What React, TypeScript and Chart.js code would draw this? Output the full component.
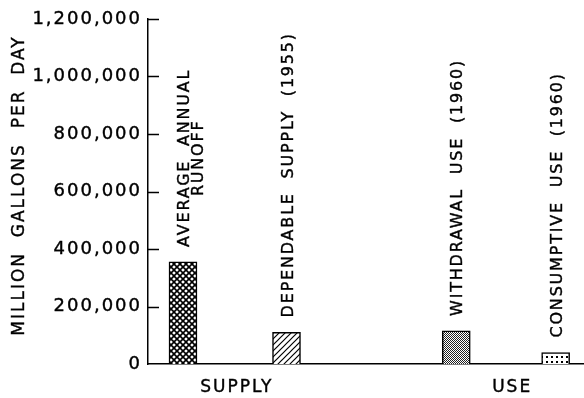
import React, { useEffect, useRef } from "react";
import { Chart, registerables } from "chart.js";

Chart.register(...registerables);

// ---- data ----
const categories = [
  "AVERAGE ANNUAL RUNOFF",
  "DEPENDABLE SUPPLY (1955)",
  "WITHDRAWAL USE (1960)",
  "CONSUMPTIVE USE (1960)",
];
const barLabelLines = [
  ["AVERAGE  ANNUAL", "RUNOFF"],
  ["DEPENDABLE  SUPPLY  (1955)"],
  ["WITHDRAWAL  USE  (1960)"],
  ["CONSUMPTIVE  USE  (1960)"],
];
const values = [355000, 110000, 115000, 40000];
const barPositions = [1, 2, 3.64, 4.6];
const groupLabels = ["SUPPLY", "USE"];
const groupPositions = [1.52, 4.18];
const yTickValues = [0, 200000, 400000, 600000, 800000, 1000000, 1200000];
const yTitle = "MILLION  GALLONS  PER  DAY";

const FONT = '"DejaVu Sans", sans-serif';
const AXIS_SPACING = "2px";
const LABEL_SPACING = "1.8px";

function makePattern(kind: string): CanvasPattern | string {
  const c = document.createElement("canvas");
  const size = kind === "cross" ? 6 : kind === "hatch" ? 6 : kind === "stipple" ? 2 : 5;
  c.width = size;
  c.height = size;
  const g = c.getContext("2d")!;
  g.fillStyle = "#fff";
  g.fillRect(0, 0, size, size);
  g.strokeStyle = "#000";
  g.fillStyle = "#000";
  if (kind === "cross") {
    g.lineWidth = 1.6;
    g.beginPath();
    g.moveTo(-1, -1); g.lineTo(size + 1, size + 1);
    g.moveTo(-1, size + 1); g.lineTo(size + 1, -1);
    g.stroke();
  } else if (kind === "hatch") {
    g.lineWidth = 1.2;
    g.beginPath();
    g.moveTo(-1, size + 1); g.lineTo(size + 1, -1);
    g.moveTo(-1, 1); g.lineTo(1, -1);
    g.moveTo(size - 1, size + 1); g.lineTo(size + 1, size - 1);
    g.stroke();
  } else if (kind === "stipple") {
    g.fillStyle = "#222";
    g.fillRect(0, 0, 1, 1);
    g.fillRect(1, 1, 1, 1);
  } else {
    g.fillRect(1, 1, 2, 2);
  }
  const p = g.createPattern(c, "repeat");
  return p || "#888";
}

const patternKinds = ["cross", "hatch", "stipple", "dots"];

export default function App() {
  const ref = useRef<HTMLCanvasElement | null>(null);

  useEffect(() => {
    if (!ref.current) return;
    const setSpacing = (chart: any) => {
      (chart.ctx as any).letterSpacing = AXIS_SPACING;
    };

    const drawText = (
      ctx: CanvasRenderingContext2D,
      text: string,
      x: number,
      y: number
    ) => {
      ctx.fillText(text, x, y);
      ctx.strokeText(text, x, y);
    };

    const customPlugin = {
      id: "custom",
      beforeUpdate: (chart: any) => setSpacing(chart),
      beforeLayout: (chart: any) => setSpacing(chart),
      beforeDraw: (chart: any) => setSpacing(chart),
      afterDraw: (chart: any) => {
        const ctx = chart.ctx as CanvasRenderingContext2D;
        const area = chart.chartArea;
        const ys = chart.scales.y;
        // inward tick marks
        ctx.save();
        ctx.strokeStyle = "#000";
        ctx.lineWidth = 1.5;
        ctx.beginPath();
        yTickValues.forEach((v) => {
          if (v === 0) return;
          const py = Math.round(ys.getPixelForValue(v)) + 0.5;
          ctx.moveTo(area.left, py);
          ctx.lineTo(area.left + 11, py);
        });
        ctx.stroke();
        ctx.restore();

        // y title
        ctx.save();
        (ctx as any).letterSpacing = "2px";
        ctx.font = `17px ${FONT}`;
        ctx.fillStyle = "#000";
        ctx.strokeStyle = "#000";
        ctx.lineWidth = 0.4;
        ctx.translate(20, (area.top + area.bottom) / 2 - 6);
        ctx.rotate(-Math.PI / 2);
        ctx.textAlign = "center";
        ctx.textBaseline = "middle";
        drawText(ctx, yTitle, 0, 0);
        ctx.restore();

        // bar labels
        const meta = chart.getDatasetMeta(0);
        meta.data.forEach((el: any, i: number) => {
          const lines = barLabelLines[i];
          ctx.save();
          (ctx as any).letterSpacing = LABEL_SPACING;
          ctx.font = `16px ${FONT}`;
          ctx.fillStyle = "#000";
          ctx.strokeStyle = "#000";
          ctx.lineWidth = 0.4;
          ctx.textBaseline = "middle";
          const startY = el.y - 15;
          ctx.translate(el.x + 2, startY);
          ctx.rotate(-Math.PI / 2);
          const w0 = ctx.measureText(lines[0]).width;
          ctx.textAlign = "left";
          drawText(ctx, lines[0], 0, 0);
          for (let k = 1; k < lines.length; k++) {
            ctx.textAlign = "center";
            drawText(ctx, lines[k], w0 / 2, 14 * k);
          }
          ctx.restore();
        });
      },
    };

    const chart = new Chart(ref.current, {
      type: "bar",
      data: {
        labels: categories,
        datasets: [
          {
            label: "Million gallons per day",
            data: values.map((v, i) => ({ x: barPositions[i], y: v })) as any,
            backgroundColor: patternKinds.map((k) => makePattern(k)) as any,
            borderColor: "#000",
            borderWidth: 1.5,
            borderSkipped: "bottom",
            barThickness: 28,
          },
        ],
      },
      options: {
        responsive: false,
        animation: false,
        events: [],
        layout: { padding: { top: 19, left: 0, right: 0, bottom: 0 } },
        plugins: {
          legend: { display: false },
          tooltip: { enabled: false },
        },
        scales: {
          x: {
            type: "linear",
            offset: false,
            min: 0.662,
            max: 4.874,
            grid: { display: false, drawTicks: false },
            border: { display: true, color: "#000", width: 1.5 },
            afterBuildTicks: (scale: any) => {
              scale.ticks = groupPositions.map((v) => ({ value: v }));
            },
            afterFit: (scale: any) => {
              scale.height = 34;
            },
            ticks: {
              autoSkip: false,
              maxRotation: 0,
              padding: 13,
              color: "#000",
              textStrokeColor: "#000",
              textStrokeWidth: 0.4,
              font: { family: FONT, size: 17 },
              callback: (v: any) => {
                const idx = groupPositions.indexOf(Number(v));
                return idx >= 0 ? groupLabels[idx] : "";
              },
            },
          },
          y: {
            type: "linear",
            min: 0,
            max: 1200000,
            grid: { display: false, drawTicks: false },
            border: { display: true, color: "#000", width: 1.5 },
            afterBuildTicks: (scale: any) => {
              scale.ticks = yTickValues.map((v) => ({ value: v }));
            },
            afterFit: (scale: any) => {
              scale.width = 148;
            },
            ticks: {
              padding: 6,
              color: "#000",
              textStrokeColor: "#000",
              textStrokeWidth: 0.4,
              font: { family: FONT, size: 18 },
              callback: (v: any) => Number(v).toLocaleString("en-US"),
            },
          },
        },
      },
      plugins: [customPlugin],
    });
    return () => chart.destroy();
  }, []);

  return (
    <div
      style={{
        position: "absolute",
        left: 0,
        top: 0,
        width: 584,
        height: 398,
        background: "#fff",
      }}
    >
      <canvas ref={ref} width={584} height={398} style={{ display: "block" }} />
    </div>
  );
}
